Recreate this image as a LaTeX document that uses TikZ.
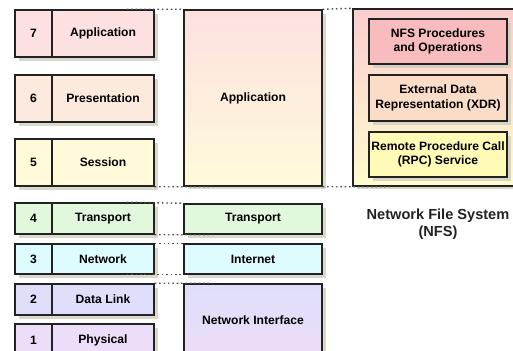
\documentclass[tikz,border=0pt]{standalone}
\usepackage{fontspec}
\setmainfont{Liberation Sans}
\usepackage{tikz}
\usetikzlibrary{shadows}
\definecolor{osiA}{HTML}{FDE0E0}
\definecolor{osiB}{HTML}{FCEADF}
\definecolor{osiC}{HTML}{FFFBDA}
\definecolor{osiD}{HTML}{E2F8DC}
\definecolor{osiE}{HTML}{DEFCFD}
\definecolor{osiF}{HTML}{DFDFFB}
\definecolor{osiG}{HTML}{ECDDF8}
\definecolor{nfsA}{HTML}{F8BCBE}
\definecolor{nfsB}{HTML}{FBDCC6}
\definecolor{nfsC}{HTML}{FFFBB6}
\definecolor{rim}{HTML}{222222}
\definecolor{shade}{HTML}{CFCFBE}

\begin{document}
\begin{tikzpicture}[x=0.02cm,y=-0.02cm,
    lbox/.style={draw=rim,line width=0.85pt,inner sep=0pt,align=center,
      font=\fontsize{6.9}{8.2}\selectfont\bfseries,
      drop shadow={shadow xshift=2pt,shadow yshift=-2pt,fill=shade,opacity=0.8}},
    numcell/.style={lbox,minimum width=0.74cm},
    namecell/.style={lbox,minimum width=2.04cm},
    tcpcell/.style={lbox,minimum width=2.76cm},
    nfscell/.style={lbox,minimum width=2.76cm,minimum height=0.9cm},
    guide/.style={draw=rim!80,line width=0.8pt,dash pattern=on 0.9pt off 1.6pt}]
  \useasboundingbox (0,0) rectangle (513,351);
  \clip (0,0) rectangle (513,351);

      \draw (33.5,33.5) node[numcell,minimum height=0.94cm,fill=osiA] (n7) {7};
  \draw (103,33.5) node[namecell,minimum height=0.94cm,fill=osiA] (o7) {Application};
      \draw (33.5,98.5) node[numcell,minimum height=0.94cm,fill=osiB] (n6) {6};
  \draw (103,98.5) node[namecell,minimum height=0.94cm,fill=osiB] (o6) {Presentation};
      \draw (33.5,162.5) node[numcell,minimum height=0.94cm,fill=osiC] (n5) {5};
  \draw (103,162.5) node[namecell,minimum height=0.94cm,fill=osiC] (o5) {Session};
      \draw (33.5,218.5) node[numcell,minimum height=0.62cm,fill=osiD] (n4) {4};
  \draw (103,218.5) node[namecell,minimum height=0.62cm,fill=osiD] (o4) {Transport};
      \draw (33.5,259) node[numcell,minimum height=0.6cm,fill=osiE] (n3) {3};
  \draw (103,259) node[namecell,minimum height=0.6cm,fill=osiE] (o3) {Network};
      \draw (33.5,299.5) node[numcell,minimum height=0.62cm,fill=osiF] (n2) {2};
  \draw (103,299.5) node[namecell,minimum height=0.62cm,fill=osiF] (o2) {Data Link};
      \draw (33.5,340) node[numcell,minimum height=0.64cm,fill=osiG] (n1) {1};
  \draw (103,340) node[namecell,minimum height=0.64cm,fill=osiG] (o1) {Physical};

  \draw (253,98) node[tcpcell,minimum height=3.52cm,top color=osiA,bottom color=osiC] (tapp) {Application};
  \draw (253,219) node[tcpcell,minimum height=0.6cm,fill=osiD] (ttrans) {Transport};
  \draw (253,259) node[tcpcell,minimum height=0.6cm,fill=osiE] (tinet) {Internet};
  \draw (253,320) node[tcpcell,minimum height=1.44cm,top color=osiF,bottom color=osiG] (tnet) {Network Interface};

  \draw (438,97.5) node[lbox,minimum width=3.4cm,minimum height=3.54cm,top color=nfsA!75!white,bottom color=nfsC!65!white] (nfs) {};
      \draw (438,41.5) node[nfscell,fill=nfsA] (nfsproc) {NFS Procedures\\and Operations};
      \draw (438,98) node[nfscell,minimum height=0.92cm,fill=nfsB] (xdr) {External Data\\Representation (XDR)};
      \draw (438,154.5) node[nfscell,fill=nfsC] (rpc) {Remote Procedure Call\\(RPC) Service};
  \draw (438,224) node[align=center,inner sep=0pt,font=\fontsize{8.3}{9.6}\selectfont\bfseries,text=rim] (nfsname) {Network File System\\(NFS)};

  \path[guide] ([xshift=-0.56cm]o7.north east) edge (tapp.north west);
  \path[guide] (tapp.north east) edge (nfs.north west);
  \path[guide] (o5.south east) edge ([xshift=0.58cm]tapp.south west);
  \path[guide] (tapp.south east) edge ([xshift=0.78cm]nfs.south west);
  \path[guide] ([xshift=-0.56cm]o4.north east) edge (ttrans.north west);
  \path[guide] (o4.south east) edge ([xshift=0.58cm]ttrans.south west);
  \path[guide] (o3.north east) edge (tinet.north west);
  \path[guide] ([xshift=-0.56cm]o3.south east) edge (tinet.south west);
  \path[guide] (o2.north east) edge ([xshift=0.58cm]tnet.north west);
\end{tikzpicture}
\end{document}
